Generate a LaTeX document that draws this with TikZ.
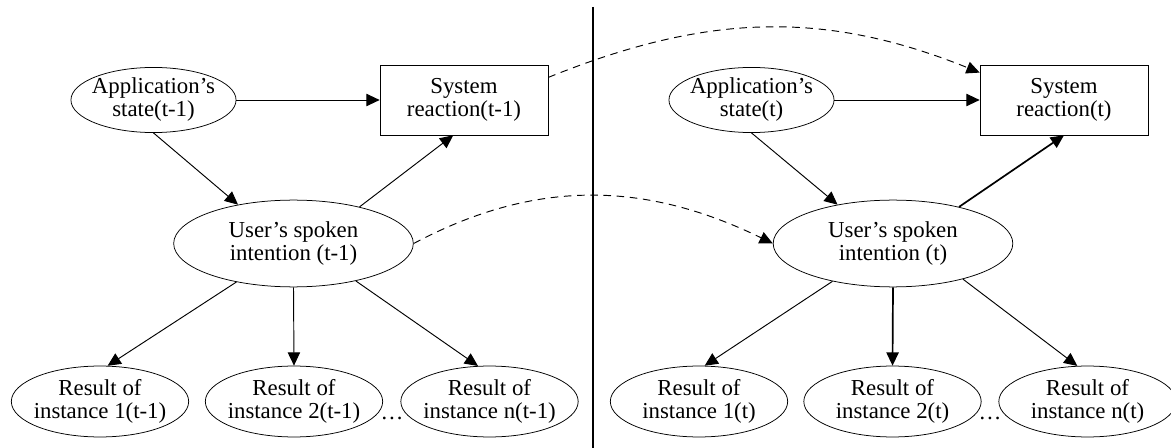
\documentclass[tikz,border=0pt]{standalone}
\usepackage{fontspec}
\setmainfont{Liberation Serif}
\usetikzlibrary{positioning,shapes.geometric,arrows.meta}
\tikzset{
  arrow/.style={-{Triangle[length=7pt,width=6.5pt]}, line width=0.5pt},
  heavy/.style={line width=0.9pt},
  carry/.style={arrow, dash pattern=on 4pt off 3pt}
}

\begin{document}
\begin{tikzpicture}[x=0.53pt, y=-0.53pt, font=\fontsize{12.1}{12.2}\selectfont]
  \tikzset{
    state/.style={draw, ellipse, align=center, inner xsep=-4pt, inner ysep=0pt, minimum width=87.5pt, minimum height=34.5pt},
    reaction/.style={draw, rectangle, align=center, minimum width=89pt, minimum height=37pt},
    intent/.style={draw, ellipse, align=center, inner xsep=-4pt, inner ysep=0pt, minimum width=127pt, minimum height=46pt},
    result/.style={draw, ellipse, align=center, inner xsep=-4pt, inner ysep=0pt, minimum width=94pt, minimum height=37.6pt}
  }
  \useasboundingbox (0,0) rectangle (1171,448);

  % slice t-1
  \node[state] (asA) at (153.5,100) {Application's\\state(t-1)};
  \node[reaction] (srA) at (464,100) {System\\reaction(t-1)};
  \node[intent] (uiA) at (293.5,243.5) {User's spoken\\intention (t-1)};
  \node[result] (rA1) at (100,401.5) {Result of\\instance 1(t-1)};
  \node[result] (rA2) at (294,401.5) {Result of\\instance 2(t-1)};
  \node[result] (rAn) at (489.5,401.5) {Result of\\instance n(t-1)};
  \node[anchor=base, inner sep=0pt] (dotsA) at (392,419) {\dots};

  % slice t
  \node[state] (asB) at (751.5,100) {Application's\\state(t)};
  \node[reaction] (srB) at (1064,100) {System\\reaction(t)};
  \node[intent] (uiB) at (893,243.5) {User's spoken\\intention (t)};
  \node[result] (rB1) at (699,401.5) {Result of\\instance 1(t)};
  \node[result] (rB2) at (892.5,401.5) {Result of\\instance 2(t)};
  \node[result] (rBn) at (1087.5,401.5) {Result of\\instance n(t)};
  \node[anchor=base, inner sep=0pt] (dotsB) at (990,419) {\dots};

  \coordinate (cutTop) at (593,7);
  \coordinate (cutBot) at (593,448);
  \draw[line width=0.6pt] (cutTop) -- (cutBot);

  \draw[arrow] (asA.east) -- (srA.west);
  \draw[arrow] (asA.south) -- (uiA.145);
  \draw[arrow] (uiA.29) -- (srA.253);
  \draw[arrow] (uiA.214) -- (rA1.78);
  \draw[arrow] (uiA.south) -- (rA2.north);
  \draw[arrow] (uiA.-31) -- (rAn.108);

  \draw[arrow] (asB.east) -- (srB.west);
  \draw[arrow] (asB.south) -- (uiB.145);
  \draw[arrow, heavy] (uiB.29) -- (srB.south);
  \draw[arrow] (uiB.212) -- (rB1.81);
  \draw[arrow, heavy] (uiB.south) -- (rB2.north);
  \draw[arrow] (uiB.-27) -- (rBn.106);

  \draw[carry] (srA.15) to[out=22, in=158] (srB.162);
  \draw[carry] (uiA.east) to[out=28, in=154] (uiB.west);
\end{tikzpicture}
\end{document}
